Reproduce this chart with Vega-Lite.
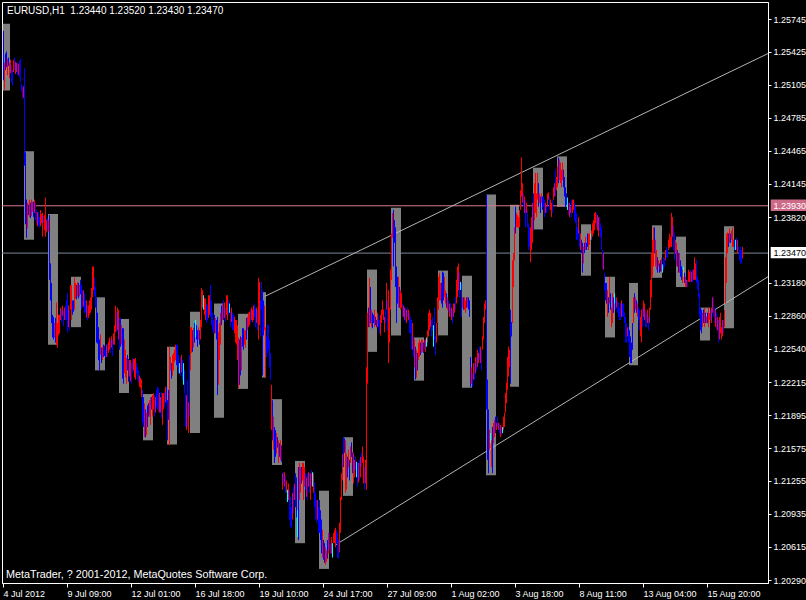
{"$schema":"https://vega.github.io/schema/vega-lite/v6.json","width":766,"height":581,"autosize":{"type":"none"},"padding":{"left":2,"top":2,"right":38,"bottom":17},"background":"#000000",
"config":{"view":{"stroke":"#ffffff","strokeWidth":1},"font":"Liberation Sans","axis":{"domainColor":"#ffffff","tickColor":"#ffffff","labelColor":"#ffffff","labelFont":"Liberation Sans","labelFontSize":9,"grid":false,"labelOverlap":false,"labelFlush":false,"labelBound":false,"title":null}},
"datasets":{
"boxes":[{"x0":0.7,"x1":8,"top":1.2570,"bot":1.2505},{"x0":22,"x1":32,"top":1.2446,"bot":1.2360},{"x0":46,"x1":56,"top":1.2385,"bot":1.2258},{"x0":69,"x1":79,"top":1.2324,"bot":1.2275},{"x0":93,"x1":103,"top":1.2304,"bot":1.2233},{"x0":117,"x1":127,"top":1.2283,"bot":1.2211},{"x0":141,"x1":151,"top":1.2210,"bot":1.2165},{"x0":165,"x1":175,"top":1.2256,"bot":1.2161},{"x0":188,"x1":198,"top":1.2290,"bot":1.2172},{"x0":212,"x1":222,"top":1.2298,"bot":1.2187},{"x0":236,"x1":246,"top":1.2288,"bot":1.2215},{"x0":260,"x1":264,"top":1.2309,"bot":1.2226},{"x0":270,"x1":280,"top":1.2205,"bot":1.2141},{"x0":293,"x1":303,"top":1.2145,"bot":1.2065},{"x0":317,"x1":327,"top":1.2116,"bot":1.2040},{"x0":341,"x1":351,"top":1.2168,"bot":1.2111},{"x0":365,"x1":375,"top":1.2331,"bot":1.2251},{"x0":389,"x1":399,"top":1.2391,"bot":1.2267},{"x0":412,"x1":422,"top":1.2265,"bot":1.2223},{"x0":436,"x1":446,"top":1.2330,"bot":1.2267},{"x0":460,"x1":470,"top":1.2325,"bot":1.2216},{"x0":484,"x1":494,"top":1.2404,"bot":1.2131},{"x0":508,"x1":517,"top":1.2394,"bot":1.2217},{"x0":531,"x1":541,"top":1.2430,"bot":1.2370},{"x0":555,"x1":565,"top":1.2441,"bot":1.2392},{"x0":579,"x1":589,"top":1.2375,"bot":1.2325},{"x0":603,"x1":613,"top":1.2324,"bot":1.2265},{"x0":627,"x1":636,"top":1.2318,"bot":1.2238},{"x0":650,"x1":660,"top":1.2374,"bot":1.2323},{"x0":674,"x1":684,"top":1.2363,"bot":1.2314},{"x0":698,"x1":708,"top":1.2294,"bot":1.2262},{"x0":722,"x1":732,"top":1.2373,"bot":1.2274}],
"bars":[
{"i":1,"h":1.2563,"l":1.2515,"c":"b"},{"i":2,"h":1.2532,"l":1.2506,"c":"r"},{"i":3,"h":1.2541,"l":1.2525,"c":"b"},{"i":4,"h":1.2543,"l":1.2528,"c":"b"},{"i":5,"h":1.2536,"l":1.2520,"c":"r"},{"i":6,"h":1.2537,"l":1.2529,"c":"b"},{"i":7,"h":1.2532,"l":1.2517,"c":"r"},{"i":8,"h":1.2535,"l":1.2522,"c":"r"},{"i":9,"h":1.2530,"l":1.2513,"c":"b"},{"i":10,"h":1.2525,"l":1.2510,"c":"b"},
{"i":11,"h":1.2535,"l":1.2523,"c":"r"},{"i":12,"h":1.2537,"l":1.2525,"c":"b"},{"i":13,"h":1.2533,"l":1.2521,"c":"r"},{"i":14,"h":1.2532,"l":1.2523,"c":"r"},{"i":15,"h":1.2532,"l":1.2520,"c":"b"},{"i":16,"h":1.2531,"l":1.2520,"c":"r"},{"i":17,"h":1.2534,"l":1.2518,"c":"b"},{"i":18,"h":1.2536,"l":1.2513,"c":"b"},{"i":19,"h":1.2512,"l":1.2504,"c":"b"},{"i":20,"h":1.2510,"l":1.2497,"c":"b"},
{"i":21,"h":1.2509,"l":1.2498,"c":"r"},{"i":22,"h":1.2527,"l":1.2432,"c":"b"},{"i":23,"h":1.2445,"l":1.2375,"c":"b"},{"i":24,"h":1.2399,"l":1.2362,"c":"b"},{"i":25,"h":1.2396,"l":1.2371,"c":"r"},{"i":26,"h":1.2394,"l":1.2384,"c":"b"},{"i":27,"h":1.2399,"l":1.2382,"c":"r"},{"i":28,"h":1.2396,"l":1.2381,"c":"b"},{"i":29,"h":1.2399,"l":1.2383,"c":"r"},{"i":30,"h":1.2397,"l":1.2387,"c":"r"},
{"i":31,"h":1.2397,"l":1.2382,"c":"b"},{"i":32,"h":1.2399,"l":1.2386,"c":"r"},{"i":33,"h":1.2396,"l":1.2379,"c":"b"},{"i":34,"h":1.2389,"l":1.2376,"c":"b"},{"i":35,"h":1.2387,"l":1.2373,"c":"r"},{"i":36,"h":1.2387,"l":1.2374,"c":"b"},{"i":37,"h":1.2382,"l":1.2372,"c":"b"},{"i":38,"h":1.2389,"l":1.2373,"c":"r"},{"i":39,"h":1.2385,"l":1.2376,"c":"r"},{"i":40,"h":1.2386,"l":1.2363,"c":"r"},
{"i":41,"h":1.2383,"l":1.2376,"c":"b"},{"i":42,"h":1.2384,"l":1.2369,"c":"r"},{"i":43,"h":1.2401,"l":1.2363,"c":"r"},{"i":44,"h":1.2379,"l":1.2367,"c":"r"},{"i":45,"h":1.2381,"l":1.2369,"c":"b"},{"i":46,"h":1.2379,"l":1.2368,"c":"r"},{"i":47,"h":1.2384,"l":1.2321,"c":"b"},{"i":48,"h":1.2337,"l":1.2301,"c":"b"},{"i":49,"h":1.2318,"l":1.2279,"c":"b"},{"i":50,"h":1.2287,"l":1.2265,"c":"b"},
{"i":51,"h":1.2285,"l":1.2263,"c":"b"},{"i":52,"h":1.2279,"l":1.2265,"c":"r"},{"i":53,"h":1.2284,"l":1.2260,"c":"b"},{"i":54,"h":1.2299,"l":1.2258,"c":"r"},{"i":55,"h":1.2279,"l":1.2255,"c":"r"},{"i":56,"h":1.2287,"l":1.2267,"c":"r"},{"i":57,"h":1.2287,"l":1.2269,"c":"r"},{"i":58,"h":1.2294,"l":1.2282,"c":"r"},{"i":59,"h":1.2293,"l":1.2280,"c":"b"},{"i":60,"h":1.2296,"l":1.2286,"c":"r"},
{"i":61,"h":1.2291,"l":1.2276,"c":"b"},{"i":62,"h":1.2294,"l":1.2282,"c":"r"},{"i":63,"h":1.2296,"l":1.2282,"c":"b"},{"i":64,"h":1.2301,"l":1.2282,"c":"b"},{"i":65,"h":1.2308,"l":1.2270,"c":"b"},{"i":66,"h":1.2296,"l":1.2275,"c":"r"},{"i":67,"h":1.2292,"l":1.2272,"c":"b"},{"i":68,"h":1.2316,"l":1.2292,"c":"r"},{"i":69,"h":1.2316,"l":1.2282,"c":"r"},{"i":70,"h":1.2301,"l":1.2287,"c":"b"},
{"i":71,"h":1.2301,"l":1.2290,"c":"b"},{"i":72,"h":1.2323,"l":1.2292,"c":"r"},{"i":73,"h":1.2318,"l":1.2303,"c":"r"},{"i":74,"h":1.2316,"l":1.2302,"c":"b"},{"i":75,"h":1.2319,"l":1.2305,"c":"r"},{"i":76,"h":1.2318,"l":1.2303,"c":"b"},{"i":77,"h":1.2316,"l":1.2305,"c":"r"},{"i":78,"h":1.2321,"l":1.2307,"c":"b"},{"i":79,"h":1.2316,"l":1.2292,"c":"b"},{"i":80,"h":1.2311,"l":1.2294,"c":"b"},
{"i":81,"h":1.2311,"l":1.2295,"c":"r"},{"i":82,"h":1.2308,"l":1.2289,"c":"b"},{"i":83,"h":1.2301,"l":1.2289,"c":"b"},{"i":84,"h":1.2301,"l":1.2284,"c":"r"},{"i":85,"h":1.2296,"l":1.2282,"c":"b"},{"i":86,"h":1.2296,"l":1.2284,"c":"r"},{"i":87,"h":1.2301,"l":1.2287,"c":"r"},{"i":88,"h":1.2304,"l":1.2289,"c":"r"},{"i":89,"h":1.2313,"l":1.2292,"c":"r"},{"i":90,"h":1.2334,"l":1.2304,"c":"r"},
{"i":91,"h":1.2334,"l":1.2311,"c":"r"},{"i":92,"h":1.2323,"l":1.2305,"c":"b"},{"i":93,"h":1.2314,"l":1.2294,"c":"b"},{"i":94,"h":1.2304,"l":1.2260,"c":"b"},{"i":95,"h":1.2289,"l":1.2259,"c":"b"},{"i":96,"h":1.2275,"l":1.2243,"c":"b"},{"i":97,"h":1.2263,"l":1.2233,"c":"b"},{"i":98,"h":1.2268,"l":1.2248,"c":"r"},{"i":99,"h":1.2255,"l":1.2240,"c":"b"},{"i":100,"h":1.2256,"l":1.2243,"c":"r"},
{"i":101,"h":1.2258,"l":1.2246,"c":"b"},{"i":102,"h":1.2257,"l":1.2247,"c":"b"},{"i":103,"h":1.2253,"l":1.2245,"c":"b"},{"i":104,"h":1.2258,"l":1.2246,"c":"r"},{"i":105,"h":1.2259,"l":1.2246,"c":"b"},{"i":106,"h":1.2261,"l":1.2250,"c":"r"},{"i":107,"h":1.2265,"l":1.2253,"c":"r"},{"i":108,"h":1.2263,"l":1.2250,"c":"b"},{"i":109,"h":1.2266,"l":1.2255,"c":"r"},{"i":110,"h":1.2263,"l":1.2247,"c":"b"},
{"i":111,"h":1.2269,"l":1.2258,"c":"r"},{"i":112,"h":1.2277,"l":1.2258,"c":"r"},{"i":113,"h":1.2296,"l":1.2270,"c":"r"},{"i":114,"h":1.2290,"l":1.2270,"c":"b"},{"i":115,"h":1.2294,"l":1.2272,"c":"r"},{"i":116,"h":1.2292,"l":1.2263,"c":"r"},{"i":117,"h":1.2284,"l":1.2253,"c":"b"},{"i":118,"h":1.2284,"l":1.2256,"c":"b"},{"i":119,"h":1.2277,"l":1.2258,"c":"r"},{"i":120,"h":1.2274,"l":1.2225,"c":"b"},
{"i":121,"h":1.2274,"l":1.2220,"c":"b"},{"i":122,"h":1.2263,"l":1.2230,"c":"r"},{"i":123,"h":1.2253,"l":1.2226,"c":"r"},{"i":124,"h":1.2245,"l":1.2220,"c":"r"},{"i":125,"h":1.2248,"l":1.2233,"c":"b"},{"i":126,"h":1.2244,"l":1.2222,"c":"b"},{"i":127,"h":1.2243,"l":1.2227,"c":"r"},{"i":128,"h":1.2243,"l":1.2222,"c":"r"},{"i":129,"h":1.2240,"l":1.2220,"c":"b"},{"i":130,"h":1.2245,"l":1.2231,"c":"b"},
{"i":131,"h":1.2244,"l":1.2233,"c":"r"},{"i":132,"h":1.2244,"l":1.2226,"c":"r"},{"i":133,"h":1.2245,"l":1.2224,"c":"r"},{"i":134,"h":1.2240,"l":1.2230,"c":"b"},{"i":135,"h":1.2236,"l":1.2224,"c":"b"},{"i":136,"h":1.2233,"l":1.2221,"c":"b"},{"i":137,"h":1.2228,"l":1.2217,"c":"r"},{"i":138,"h":1.2226,"l":1.2216,"c":"r"},{"i":139,"h":1.2224,"l":1.2207,"c":"r"},{"i":140,"h":1.2214,"l":1.2182,"c":"b"},
{"i":141,"h":1.2207,"l":1.2178,"c":"b"},{"i":142,"h":1.2201,"l":1.2168,"c":"r"},{"i":143,"h":1.2195,"l":1.2168,"c":"b"},{"i":144,"h":1.2192,"l":1.2170,"c":"r"},{"i":145,"h":1.2199,"l":1.2178,"c":"b"},{"i":146,"h":1.2201,"l":1.2188,"c":"b"},{"i":147,"h":1.2204,"l":1.2188,"c":"r"},{"i":148,"h":1.2207,"l":1.2180,"c":"r"},{"i":149,"h":1.2207,"l":1.2195,"c":"b"},{"i":150,"h":1.2209,"l":1.2188,"c":"r"},
{"i":151,"h":1.2211,"l":1.2195,"c":"r"},{"i":152,"h":1.2209,"l":1.2188,"c":"b"},{"i":153,"h":1.2207,"l":1.2192,"c":"r"},{"i":154,"h":1.2214,"l":1.2197,"c":"b"},{"i":155,"h":1.2217,"l":1.2195,"c":"b"},{"i":156,"h":1.2216,"l":1.2193,"c":"b"},{"i":157,"h":1.2211,"l":1.2192,"c":"r"},{"i":158,"h":1.2207,"l":1.2192,"c":"r"},{"i":159,"h":1.2212,"l":1.2187,"c":"b"},{"i":160,"h":1.2211,"l":1.2180,"c":"r"},
{"i":161,"h":1.2211,"l":1.2195,"c":"r"},{"i":162,"h":1.2212,"l":1.2197,"c":"b"},{"i":163,"h":1.2217,"l":1.2202,"c":"r"},{"i":164,"h":1.2217,"l":1.2201,"c":"b"},{"i":165,"h":1.2204,"l":1.2165,"c":"b"},{"i":166,"h":1.2214,"l":1.2185,"c":"b"},{"i":167,"h":1.2256,"l":1.2160,"c":"r"},{"i":168,"h":1.2246,"l":1.2233,"c":"r"},{"i":169,"h":1.2240,"l":1.2225,"c":"b"},{"i":170,"h":1.2248,"l":1.2228,"c":"r"},
{"i":171,"h":1.2250,"l":1.2233,"c":"r"},{"i":172,"h":1.2253,"l":1.2241,"c":"r"},{"i":173,"h":1.2258,"l":1.2243,"c":"r"},{"i":174,"h":1.2258,"l":1.2238,"c":"b"},{"i":175,"h":1.2258,"l":1.2236,"c":"b"},{"i":176,"h":1.2248,"l":1.2230,"c":"b"},{"i":177,"h":1.2240,"l":1.2230,"c":"c"},{"i":178,"h":1.2245,"l":1.2228,"c":"b"},{"i":179,"h":1.2248,"l":1.2231,"c":"r"},{"i":180,"h":1.2243,"l":1.2224,"c":"b"},
{"i":181,"h":1.2240,"l":1.2219,"c":"c"},{"i":182,"h":1.2233,"l":1.2211,"c":"b"},{"i":183,"h":1.2211,"l":1.2178,"c":"b"},{"i":184,"h":1.2209,"l":1.2175,"c":"r"},{"i":185,"h":1.2224,"l":1.2178,"c":"b"},{"i":186,"h":1.2202,"l":1.2172,"c":"r"},{"i":187,"h":1.2248,"l":1.2188,"c":"b"},{"i":188,"h":1.2275,"l":1.2233,"c":"r"},{"i":189,"h":1.2275,"l":1.2250,"c":"r"},{"i":190,"h":1.2272,"l":1.2251,"c":"b"},
{"i":191,"h":1.2274,"l":1.2255,"c":"r"},{"i":192,"h":1.2279,"l":1.2260,"c":"b"},{"i":193,"h":1.2282,"l":1.2265,"c":"c"},{"i":194,"h":1.2277,"l":1.2263,"c":"b"},{"i":195,"h":1.2272,"l":1.2256,"c":"b"},{"i":196,"h":1.2275,"l":1.2263,"c":"r"},{"i":197,"h":1.2272,"l":1.2258,"c":"b"},{"i":198,"h":1.2282,"l":1.2263,"c":"r"},{"i":199,"h":1.2313,"l":1.2275,"c":"r"},{"i":200,"h":1.2311,"l":1.2294,"c":"r"},
{"i":201,"h":1.2306,"l":1.2292,"c":"c"},{"i":202,"h":1.2303,"l":1.2287,"c":"r"},{"i":203,"h":1.2303,"l":1.2282,"c":"r"},{"i":204,"h":1.2298,"l":1.2279,"c":"b"},{"i":205,"h":1.2296,"l":1.2282,"c":"b"},{"i":206,"h":1.2306,"l":1.2284,"c":"r"},{"i":207,"h":1.2306,"l":1.2287,"c":"r"},{"i":208,"h":1.2316,"l":1.2285,"c":"b"},{"i":209,"h":1.2301,"l":1.2277,"c":"b"},{"i":210,"h":1.2289,"l":1.2272,"c":"b"},
{"i":211,"h":1.2282,"l":1.2269,"c":"b"},{"i":212,"h":1.2287,"l":1.2269,"c":"b"},{"i":213,"h":1.2284,"l":1.2269,"c":"r"},{"i":214,"h":1.2282,"l":1.2263,"c":"b"},{"i":215,"h":1.2285,"l":1.2209,"c":"b"},{"i":216,"h":1.2270,"l":1.2219,"c":"r"},{"i":217,"h":1.2279,"l":1.2243,"c":"r"},{"i":218,"h":1.2289,"l":1.2258,"c":"r"},{"i":219,"h":1.2296,"l":1.2277,"c":"b"},{"i":220,"h":1.2298,"l":1.2282,"c":"r"},
{"i":221,"h":1.2301,"l":1.2282,"c":"b"},{"i":222,"h":1.2299,"l":1.2284,"c":"r"},{"i":223,"h":1.2294,"l":1.2280,"c":"b"},{"i":224,"h":1.2306,"l":1.2287,"c":"r"},{"i":225,"h":1.2306,"l":1.2282,"c":"r"},{"i":226,"h":1.2301,"l":1.2287,"c":"b"},{"i":227,"h":1.2298,"l":1.2289,"c":"c"},{"i":228,"h":1.2290,"l":1.2275,"c":"b"},{"i":229,"h":1.2294,"l":1.2280,"c":"r"},{"i":230,"h":1.2289,"l":1.2272,"c":"b"},
{"i":231,"h":1.2287,"l":1.2272,"c":"b"},{"i":232,"h":1.2285,"l":1.2269,"c":"r"},{"i":233,"h":1.2282,"l":1.2260,"c":"r"},{"i":234,"h":1.2282,"l":1.2258,"c":"r"},{"i":235,"h":1.2277,"l":1.2243,"c":"r"},{"i":236,"h":1.2265,"l":1.2216,"c":"r"},{"i":237,"h":1.2263,"l":1.2219,"c":"b"},{"i":238,"h":1.2266,"l":1.2228,"c":"b"},{"i":239,"h":1.2265,"l":1.2233,"c":"r"},{"i":240,"h":1.2274,"l":1.2256,"c":"b"},
{"i":241,"h":1.2274,"l":1.2253,"c":"b"},{"i":242,"h":1.2272,"l":1.2258,"c":"r"},{"i":243,"h":1.2272,"l":1.2255,"c":"r"},{"i":244,"h":1.2284,"l":1.2263,"c":"b"},{"i":245,"h":1.2285,"l":1.2272,"c":"r"},{"i":246,"h":1.2289,"l":1.2275,"c":"r"},{"i":247,"h":1.2290,"l":1.2277,"c":"r"},{"i":248,"h":1.2292,"l":1.2279,"c":"b"},{"i":249,"h":1.2294,"l":1.2282,"c":"r"},{"i":250,"h":1.2292,"l":1.2280,"c":"r"},
{"i":251,"h":1.2296,"l":1.2282,"c":"r"},{"i":252,"h":1.2298,"l":1.2285,"c":"b"},{"i":253,"h":1.2294,"l":1.2275,"c":"b"},{"i":254,"h":1.2294,"l":1.2279,"c":"r"},{"i":255,"h":1.2292,"l":1.2272,"c":"b"},{"i":256,"h":1.2323,"l":1.2263,"c":"r"},{"i":257,"h":1.2319,"l":1.2277,"c":"r"},{"i":258,"h":1.2301,"l":1.2266,"c":"b"},{"i":259,"h":1.2319,"l":1.2292,"c":"b"},{"i":260,"h":1.2311,"l":1.2228,"c":"b"},
{"i":261,"h":1.2301,"l":1.2267,"c":"b"},{"i":262,"h":1.2296,"l":1.2272,"c":"r"},{"i":263,"h":1.2275,"l":1.2226,"c":"r"},{"i":264,"h":1.2266,"l":1.2246,"c":"b"},{"i":265,"h":1.2278,"l":1.2250,"c":"b"},{"i":266,"h":1.2277,"l":1.2253,"c":"b"},{"i":267,"h":1.2263,"l":1.2236,"c":"b"},{"i":268,"h":1.2250,"l":1.2224,"c":"b"},{"i":269,"h":1.2219,"l":1.2175,"c":"r"},{"i":270,"h":1.2204,"l":1.2165,"c":"b"},
{"i":271,"h":1.2188,"l":1.2156,"c":"r"},{"i":272,"h":1.2178,"l":1.2143,"c":"b"},{"i":273,"h":1.2175,"l":1.2149,"c":"b"},{"i":274,"h":1.2172,"l":1.2152,"c":"r"},{"i":275,"h":1.2168,"l":1.2158,"c":"b"},{"i":276,"h":1.2165,"l":1.2143,"c":"r"},{"i":277,"h":1.2162,"l":1.2149,"c":"b"},{"i":278,"h":1.2165,"l":1.2146,"c":"r"},{"i":279,"h":1.2160,"l":1.2144,"c":"b"},{"i":280,"h":1.2133,"l":1.2117,"c":"r"},
{"i":281,"h":1.2134,"l":1.2123,"c":"b"},{"i":282,"h":1.2134,"l":1.2120,"c":"r"},{"i":283,"h":1.2131,"l":1.2114,"c":"b"},{"i":284,"h":1.2126,"l":1.2114,"c":"r"},{"i":285,"h":1.2117,"l":1.2105,"c":"c"},{"i":286,"h":1.2123,"l":1.2107,"c":"r"},{"i":287,"h":1.2117,"l":1.2088,"c":"b"},{"i":288,"h":1.2110,"l":1.2081,"c":"b"},{"i":289,"h":1.2100,"l":1.2080,"c":"b"},{"i":290,"h":1.2114,"l":1.2088,"c":"r"},
{"i":291,"h":1.2120,"l":1.2094,"c":"b"},{"i":292,"h":1.2123,"l":1.2107,"c":"r"},{"i":293,"h":1.2133,"l":1.2100,"c":"b"},{"i":294,"h":1.2129,"l":1.2090,"c":"b"},{"i":295,"h":1.2097,"l":1.2071,"c":"c"},{"i":296,"h":1.2139,"l":1.2068,"c":"b"},{"i":297,"h":1.2143,"l":1.2107,"c":"r"},{"i":298,"h":1.2139,"l":1.2114,"c":"r"},{"i":299,"h":1.2139,"l":1.2123,"c":"b"},{"i":300,"h":1.2143,"l":1.2126,"c":"r"},
{"i":301,"h":1.2143,"l":1.2107,"c":"r"},{"i":302,"h":1.2139,"l":1.2120,"c":"r"},{"i":303,"h":1.2133,"l":1.2117,"c":"b"},{"i":304,"h":1.2129,"l":1.2110,"c":"r"},{"i":305,"h":1.2133,"l":1.2107,"c":"b"},{"i":306,"h":1.2134,"l":1.2120,"c":"r"},{"i":307,"h":1.2133,"l":1.2114,"c":"b"},{"i":308,"h":1.2133,"l":1.2107,"c":"r"},{"i":309,"h":1.2136,"l":1.2120,"c":"b"},{"i":310,"h":1.2134,"l":1.2120,"c":"c"},
{"i":311,"h":1.2133,"l":1.2114,"c":"r"},{"i":312,"h":1.2124,"l":1.2100,"c":"b"},{"i":313,"h":1.2114,"l":1.2088,"c":"b"},{"i":314,"h":1.2107,"l":1.2085,"c":"b"},{"i":315,"h":1.2107,"l":1.2088,"c":"r"},{"i":316,"h":1.2100,"l":1.2075,"c":"b"},{"i":317,"h":1.2107,"l":1.2075,"c":"b"},{"i":318,"h":1.2097,"l":1.2068,"c":"b"},{"i":319,"h":1.2088,"l":1.2055,"c":"b"},{"i":320,"h":1.2078,"l":1.2051,"c":"r"},
{"i":321,"h":1.2068,"l":1.2049,"c":"b"},{"i":322,"h":1.2065,"l":1.2046,"c":"b"},{"i":323,"h":1.2061,"l":1.2044,"c":"r"},{"i":324,"h":1.2058,"l":1.2047,"c":"r"},{"i":325,"h":1.2068,"l":1.2050,"c":"b"},{"i":326,"h":1.2075,"l":1.2055,"c":"r"},{"i":327,"h":1.2075,"l":1.2058,"c":"b"},{"i":328,"h":1.2065,"l":1.2055,"c":"b"},{"i":329,"h":1.2071,"l":1.2055,"c":"r"},{"i":330,"h":1.2065,"l":1.2051,"c":"c"},
{"i":331,"h":1.2075,"l":1.2065,"c":"r"},{"i":332,"h":1.2078,"l":1.2065,"c":"r"},{"i":333,"h":1.2080,"l":1.2061,"c":"r"},{"i":334,"h":1.2078,"l":1.2065,"c":"b"},{"i":335,"h":1.2075,"l":1.2051,"c":"b"},{"i":336,"h":1.2068,"l":1.2050,"c":"b"},{"i":337,"h":1.2085,"l":1.2056,"c":"r"},{"i":338,"h":1.2110,"l":1.2075,"c":"r"},{"i":339,"h":1.2133,"l":1.2107,"c":"r"},{"i":340,"h":1.2152,"l":1.2126,"c":"r"},
{"i":341,"h":1.2168,"l":1.2139,"c":"b"},{"i":342,"h":1.2167,"l":1.2153,"c":"b"},{"i":343,"h":1.2165,"l":1.2114,"c":"r"},{"i":344,"h":1.2152,"l":1.2117,"c":"r"},{"i":345,"h":1.2149,"l":1.2129,"c":"b"},{"i":346,"h":1.2156,"l":1.2139,"c":"r"},{"i":347,"h":1.2146,"l":1.2126,"c":"b"},{"i":348,"h":1.2159,"l":1.2143,"c":"r"},{"i":349,"h":1.2163,"l":1.2149,"c":"b"},{"i":350,"h":1.2153,"l":1.2133,"c":"b"},
{"i":351,"h":1.2153,"l":1.2123,"c":"r"},{"i":352,"h":1.2146,"l":1.2129,"c":"r"},{"i":353,"h":1.2149,"l":1.2136,"c":"b"},{"i":354,"h":1.2144,"l":1.2129,"c":"c"},{"i":355,"h":1.2143,"l":1.2120,"c":"b"},{"i":356,"h":1.2143,"l":1.2124,"c":"r"},{"i":357,"h":1.2146,"l":1.2126,"c":"b"},{"i":358,"h":1.2149,"l":1.2129,"c":"r"},{"i":359,"h":1.2153,"l":1.2139,"c":"b"},{"i":360,"h":1.2159,"l":1.2143,"c":"r"},
{"i":361,"h":1.2149,"l":1.2123,"c":"r"},{"i":362,"h":1.2139,"l":1.2117,"c":"b"},{"i":363,"h":1.2146,"l":1.2123,"c":"r"},{"i":364,"h":1.2236,"l":1.2117,"c":"r"},{"i":365,"h":1.2289,"l":1.2220,"c":"r"},{"i":366,"h":1.2294,"l":1.2275,"c":"b"},{"i":367,"h":1.2323,"l":1.2275,"c":"r"},{"i":368,"h":1.2314,"l":1.2279,"c":"b"},{"i":369,"h":1.2292,"l":1.2275,"c":"r"},{"i":370,"h":1.2289,"l":1.2274,"c":"b"},
{"i":371,"h":1.2287,"l":1.2279,"c":"b"},{"i":372,"h":1.2292,"l":1.2275,"c":"r"},{"i":373,"h":1.2285,"l":1.2277,"c":"b"},{"i":374,"h":1.2282,"l":1.2275,"c":"b"},{"i":375,"h":1.2289,"l":1.2275,"c":"r"},{"i":376,"h":1.2287,"l":1.2275,"c":"b"},{"i":377,"h":1.2282,"l":1.2269,"c":"b"},{"i":378,"h":1.2287,"l":1.2267,"c":"r"},{"i":379,"h":1.2292,"l":1.2279,"c":"r"},{"i":380,"h":1.2301,"l":1.2287,"c":"r"},
{"i":381,"h":1.2292,"l":1.2282,"c":"r"},{"i":382,"h":1.2285,"l":1.2270,"c":"r"},{"i":383,"h":1.2292,"l":1.2279,"c":"b"},{"i":384,"h":1.2318,"l":1.2292,"c":"r"},{"i":385,"h":1.2301,"l":1.2272,"c":"b"},{"i":386,"h":1.2311,"l":1.2240,"c":"r"},{"i":387,"h":1.2294,"l":1.2260,"c":"r"},{"i":388,"h":1.2331,"l":1.2292,"c":"r"},{"i":389,"h":1.2366,"l":1.2321,"c":"r"},{"i":390,"h":1.2386,"l":1.2362,"c":"r"},
{"i":391,"h":1.2389,"l":1.2334,"c":"b"},{"i":392,"h":1.2379,"l":1.2357,"c":"b"},{"i":393,"h":1.2372,"l":1.2314,"c":"b"},{"i":394,"h":1.2334,"l":1.2279,"c":"b"},{"i":395,"h":1.2324,"l":1.2298,"c":"b"},{"i":396,"h":1.2324,"l":1.2294,"c":"r"},{"i":397,"h":1.2314,"l":1.2294,"c":"b"},{"i":398,"h":1.2311,"l":1.2292,"c":"r"},{"i":399,"h":1.2308,"l":1.2294,"c":"r"},{"i":400,"h":1.2298,"l":1.2285,"c":"b"},
{"i":401,"h":1.2296,"l":1.2285,"c":"r"},{"i":402,"h":1.2294,"l":1.2282,"c":"r"},{"i":403,"h":1.2294,"l":1.2280,"c":"b"},{"i":404,"h":1.2292,"l":1.2279,"c":"r"},{"i":405,"h":1.2294,"l":1.2285,"c":"b"},{"i":406,"h":1.2292,"l":1.2282,"c":"r"},{"i":407,"h":1.2289,"l":1.2269,"c":"b"},{"i":408,"h":1.2285,"l":1.2269,"c":"b"},{"i":409,"h":1.2282,"l":1.2253,"c":"b"},{"i":410,"h":1.2279,"l":1.2253,"c":"r"},
{"i":411,"h":1.2266,"l":1.2246,"c":"b"},{"i":412,"h":1.2263,"l":1.2236,"c":"r"},{"i":413,"h":1.2256,"l":1.2224,"c":"b"},{"i":414,"h":1.2253,"l":1.2226,"c":"r"},{"i":415,"h":1.2250,"l":1.2233,"c":"b"},{"i":416,"h":1.2260,"l":1.2243,"c":"r"},{"i":417,"h":1.2263,"l":1.2246,"c":"r"},{"i":418,"h":1.2260,"l":1.2248,"c":"b"},{"i":419,"h":1.2263,"l":1.2250,"c":"r"},{"i":420,"h":1.2263,"l":1.2251,"c":"r"},
{"i":421,"h":1.2260,"l":1.2250,"c":"b"},{"i":422,"h":1.2263,"l":1.2253,"c":"b"},{"i":423,"h":1.2263,"l":1.2251,"c":"r"},{"i":424,"h":1.2265,"l":1.2256,"c":"c"},{"i":425,"h":1.2272,"l":1.2260,"c":"r"},{"i":426,"h":1.2289,"l":1.2266,"c":"r"},{"i":427,"h":1.2292,"l":1.2272,"c":"r"},{"i":428,"h":1.2289,"l":1.2275,"c":"r"},{"i":429,"h":1.2282,"l":1.2266,"c":"b"},{"i":430,"h":1.2285,"l":1.2272,"c":"b"},
{"i":431,"h":1.2277,"l":1.2256,"c":"c"},{"i":432,"h":1.2294,"l":1.2263,"c":"b"},{"i":433,"h":1.2266,"l":1.2248,"c":"b"},{"i":434,"h":1.2279,"l":1.2260,"c":"r"},{"i":435,"h":1.2304,"l":1.2279,"c":"r"},{"i":436,"h":1.2324,"l":1.2292,"c":"r"},{"i":437,"h":1.2328,"l":1.2301,"c":"r"},{"i":438,"h":1.2318,"l":1.2301,"c":"r"},{"i":439,"h":1.2318,"l":1.2298,"c":"b"},{"i":440,"h":1.2329,"l":1.2294,"c":"b"},
{"i":441,"h":1.2328,"l":1.2301,"c":"b"},{"i":442,"h":1.2324,"l":1.2304,"c":"r"},{"i":443,"h":1.2311,"l":1.2298,"c":"r"},{"i":444,"h":1.2308,"l":1.2294,"c":"b"},{"i":445,"h":1.2304,"l":1.2292,"c":"r"},{"i":446,"h":1.2301,"l":1.2289,"c":"b"},{"i":447,"h":1.2298,"l":1.2285,"c":"r"},{"i":448,"h":1.2298,"l":1.2285,"c":"b"},{"i":449,"h":1.2294,"l":1.2282,"c":"r"},{"i":450,"h":1.2292,"l":1.2279,"c":"b"},
{"i":451,"h":1.2298,"l":1.2285,"c":"r"},{"i":452,"h":1.2298,"l":1.2289,"c":"r"},{"i":453,"h":1.2304,"l":1.2292,"c":"b"},{"i":454,"h":1.2321,"l":1.2298,"c":"r"},{"i":455,"h":1.2334,"l":1.2304,"c":"r"},{"i":456,"h":1.2337,"l":1.2311,"c":"r"},{"i":457,"h":1.2328,"l":1.2304,"c":"b"},{"i":458,"h":1.2319,"l":1.2311,"c":"c"},{"i":459,"h":1.2318,"l":1.2285,"c":"b"},{"i":460,"h":1.2304,"l":1.2294,"c":"r"},
{"i":461,"h":1.2304,"l":1.2292,"c":"b"},{"i":462,"h":1.2304,"l":1.2292,"c":"r"},{"i":463,"h":1.2301,"l":1.2289,"c":"r"},{"i":464,"h":1.2304,"l":1.2294,"c":"b"},{"i":465,"h":1.2304,"l":1.2294,"c":"r"},{"i":466,"h":1.2304,"l":1.2292,"c":"b"},{"i":467,"h":1.2301,"l":1.2285,"c":"b"},{"i":468,"h":1.2246,"l":1.2217,"c":"b"},{"i":469,"h":1.2236,"l":1.2220,"c":"r"},{"i":470,"h":1.2230,"l":1.2217,"c":"b"},
{"i":471,"h":1.2240,"l":1.2224,"c":"r"},{"i":472,"h":1.2240,"l":1.2224,"c":"b"},{"i":473,"h":1.2246,"l":1.2230,"c":"r"},{"i":474,"h":1.2246,"l":1.2233,"c":"b"},{"i":475,"h":1.2253,"l":1.2236,"c":"r"},{"i":476,"h":1.2250,"l":1.2240,"c":"r"},{"i":477,"h":1.2256,"l":1.2243,"c":"b"},{"i":478,"h":1.2256,"l":1.2240,"c":"r"},{"i":479,"h":1.2253,"l":1.2233,"c":"b"},{"i":480,"h":1.2266,"l":1.2253,"c":"r"},
{"i":481,"h":1.2285,"l":1.2263,"c":"r"},{"i":482,"h":1.2298,"l":1.2279,"c":"r"},{"i":483,"h":1.2301,"l":1.2292,"c":"r"},{"i":484,"h":1.2404,"l":1.2195,"c":"b"},{"i":485,"h":1.2224,"l":1.2146,"c":"b"},{"i":486,"h":1.2195,"l":1.2133,"c":"b"},{"i":487,"h":1.2175,"l":1.2156,"c":"r"},{"i":488,"h":1.2172,"l":1.2162,"c":"c"},{"i":489,"h":1.2165,"l":1.2139,"c":"r"},{"i":490,"h":1.2178,"l":1.2133,"c":"b"},
{"i":491,"h":1.2182,"l":1.2162,"c":"r"},{"i":492,"h":1.2185,"l":1.2168,"c":"r"},{"i":493,"h":1.2188,"l":1.2172,"c":"b"},{"i":494,"h":1.2182,"l":1.2175,"c":"r"},{"i":495,"h":1.2188,"l":1.2178,"c":"b"},{"i":496,"h":1.2182,"l":1.2175,"c":"r"},{"i":497,"h":1.2182,"l":1.2172,"c":"b"},{"i":498,"h":1.2180,"l":1.2168,"c":"r"},{"i":499,"h":1.2178,"l":1.2170,"c":"b"},{"i":500,"h":1.2178,"l":1.2172,"c":"c"},
{"i":501,"h":1.2188,"l":1.2175,"c":"r"},{"i":502,"h":1.2192,"l":1.2178,"c":"r"},{"i":503,"h":1.2211,"l":1.2192,"c":"r"},{"i":504,"h":1.2221,"l":1.2201,"c":"r"},{"i":505,"h":1.2246,"l":1.2214,"c":"r"},{"i":506,"h":1.2256,"l":1.2227,"c":"r"},{"i":507,"h":1.2253,"l":1.2236,"c":"r"},{"i":508,"h":1.2292,"l":1.2220,"c":"b"},{"i":509,"h":1.2280,"l":1.2266,"c":"b"},{"i":510,"h":1.2340,"l":1.2279,"c":"r"},
{"i":511,"h":1.2347,"l":1.2314,"c":"r"},{"i":512,"h":1.2372,"l":1.2340,"c":"r"},{"i":513,"h":1.2392,"l":1.2366,"c":"b"},{"i":514,"h":1.2386,"l":1.2372,"c":"r"},{"i":515,"h":1.2384,"l":1.2372,"c":"r"},{"i":516,"h":1.2382,"l":1.2372,"c":"r"},{"i":517,"h":1.2389,"l":1.2372,"c":"r"},{"i":518,"h":1.2408,"l":1.2389,"c":"r"},{"i":519,"h":1.2440,"l":1.2402,"c":"r"},{"i":520,"h":1.2415,"l":1.2396,"c":"r"},
{"i":521,"h":1.2405,"l":1.2392,"c":"b"},{"i":522,"h":1.2402,"l":1.2386,"c":"r"},{"i":523,"h":1.2399,"l":1.2372,"c":"b"},{"i":524,"h":1.2396,"l":1.2386,"c":"r"},{"i":525,"h":1.2389,"l":1.2372,"c":"b"},{"i":526,"h":1.2376,"l":1.2350,"c":"b"},{"i":527,"h":1.2372,"l":1.2353,"c":"b"},{"i":528,"h":1.2372,"l":1.2338,"c":"r"},{"i":529,"h":1.2382,"l":1.2350,"c":"r"},{"i":530,"h":1.2396,"l":1.2357,"c":"r"},
{"i":531,"h":1.2405,"l":1.2369,"c":"b"},{"i":532,"h":1.2415,"l":1.2379,"c":"r"},{"i":533,"h":1.2425,"l":1.2386,"c":"r"},{"i":534,"h":1.2405,"l":1.2382,"c":"r"},{"i":535,"h":1.2425,"l":1.2399,"c":"r"},{"i":536,"h":1.2415,"l":1.2392,"c":"b"},{"i":537,"h":1.2405,"l":1.2396,"c":"r"},{"i":538,"h":1.2402,"l":1.2386,"c":"b"},{"i":539,"h":1.2405,"l":1.2396,"c":"r"},{"i":540,"h":1.2402,"l":1.2389,"c":"b"},
{"i":541,"h":1.2402,"l":1.2392,"c":"b"},{"i":542,"h":1.2399,"l":1.2382,"c":"b"},{"i":543,"h":1.2396,"l":1.2386,"c":"r"},{"i":544,"h":1.2392,"l":1.2386,"c":"b"},{"i":545,"h":1.2405,"l":1.2392,"c":"r"},{"i":546,"h":1.2406,"l":1.2399,"c":"r"},{"i":547,"h":1.2402,"l":1.2389,"c":"b"},{"i":548,"h":1.2399,"l":1.2389,"c":"r"},{"i":549,"h":1.2396,"l":1.2382,"c":"r"},{"i":550,"h":1.2399,"l":1.2386,"c":"b"},
{"i":551,"h":1.2411,"l":1.2399,"c":"r"},{"i":552,"h":1.2415,"l":1.2402,"c":"r"},{"i":553,"h":1.2428,"l":1.2402,"c":"b"},{"i":554,"h":1.2421,"l":1.2408,"c":"r"},{"i":555,"h":1.2431,"l":1.2411,"c":"r"},{"i":556,"h":1.2440,"l":1.2415,"c":"b"},{"i":557,"h":1.2438,"l":1.2418,"c":"r"},{"i":558,"h":1.2435,"l":1.2415,"c":"r"},{"i":559,"h":1.2428,"l":1.2411,"c":"r"},{"i":560,"h":1.2435,"l":1.2418,"c":"r"},
{"i":561,"h":1.2428,"l":1.2411,"c":"b"},{"i":562,"h":1.2421,"l":1.2402,"c":"b"},{"i":563,"h":1.2411,"l":1.2392,"c":"b"},{"i":564,"h":1.2405,"l":1.2394,"c":"b"},{"i":565,"h":1.2401,"l":1.2389,"c":"c"},{"i":566,"h":1.2396,"l":1.2384,"c":"b"},{"i":567,"h":1.2396,"l":1.2382,"c":"r"},{"i":568,"h":1.2392,"l":1.2386,"c":"r"},{"i":569,"h":1.2399,"l":1.2382,"c":"b"},{"i":570,"h":1.2399,"l":1.2386,"c":"r"},
{"i":571,"h":1.2399,"l":1.2389,"c":"r"},{"i":572,"h":1.2396,"l":1.2379,"c":"b"},{"i":573,"h":1.2392,"l":1.2376,"c":"b"},{"i":574,"h":1.2386,"l":1.2360,"c":"b"},{"i":575,"h":1.2372,"l":1.2360,"c":"b"},{"i":576,"h":1.2382,"l":1.2366,"c":"r"},{"i":577,"h":1.2369,"l":1.2353,"c":"b"},{"i":578,"h":1.2366,"l":1.2350,"c":"r"},{"i":579,"h":1.2360,"l":1.2347,"c":"b"},{"i":580,"h":1.2357,"l":1.2328,"c":"b"},
{"i":581,"h":1.2353,"l":1.2337,"c":"r"},{"i":582,"h":1.2357,"l":1.2347,"c":"b"},{"i":583,"h":1.2363,"l":1.2350,"c":"r"},{"i":584,"h":1.2357,"l":1.2350,"c":"b"},{"i":585,"h":1.2366,"l":1.2353,"c":"b"},{"i":586,"h":1.2366,"l":1.2350,"c":"r"},{"i":587,"h":1.2366,"l":1.2355,"c":"r"},{"i":588,"h":1.2366,"l":1.2360,"c":"c"},{"i":589,"h":1.2369,"l":1.2360,"c":"r"},{"i":590,"h":1.2376,"l":1.2363,"c":"r"},
{"i":591,"h":1.2379,"l":1.2366,"c":"r"},{"i":592,"h":1.2386,"l":1.2369,"c":"r"},{"i":593,"h":1.2387,"l":1.2376,"c":"r"},{"i":594,"h":1.2386,"l":1.2372,"c":"b"},{"i":595,"h":1.2384,"l":1.2369,"c":"r"},{"i":596,"h":1.2382,"l":1.2363,"c":"r"},{"i":597,"h":1.2382,"l":1.2369,"c":"b"},{"i":598,"h":1.2376,"l":1.2363,"c":"b"},{"i":599,"h":1.2372,"l":1.2350,"c":"b"},{"i":600,"h":1.2350,"l":1.2331,"c":"b"},
{"i":601,"h":1.2347,"l":1.2331,"c":"r"},{"i":602,"h":1.2328,"l":1.2311,"c":"b"},{"i":603,"h":1.2318,"l":1.2301,"c":"b"},{"i":604,"h":1.2318,"l":1.2298,"c":"b"},{"i":605,"h":1.2311,"l":1.2285,"c":"r"},{"i":606,"h":1.2304,"l":1.2289,"c":"b"},{"i":607,"h":1.2324,"l":1.2298,"c":"r"},{"i":608,"h":1.2308,"l":1.2292,"c":"b"},{"i":609,"h":1.2294,"l":1.2275,"c":"r"},{"i":610,"h":1.2308,"l":1.2279,"c":"r"},
{"i":611,"h":1.2304,"l":1.2289,"c":"b"},{"i":612,"h":1.2308,"l":1.2298,"c":"c"},{"i":613,"h":1.2304,"l":1.2292,"c":"b"},{"i":614,"h":1.2304,"l":1.2294,"c":"r"},{"i":615,"h":1.2301,"l":1.2289,"c":"b"},{"i":616,"h":1.2299,"l":1.2285,"c":"b"},{"i":617,"h":1.2294,"l":1.2282,"c":"b"},{"i":618,"h":1.2298,"l":1.2282,"c":"b"},{"i":619,"h":1.2301,"l":1.2285,"c":"r"},{"i":620,"h":1.2298,"l":1.2285,"c":"b"},
{"i":621,"h":1.2298,"l":1.2285,"c":"b"},{"i":622,"h":1.2289,"l":1.2279,"c":"b"},{"i":623,"h":1.2285,"l":1.2260,"c":"b"},{"i":624,"h":1.2279,"l":1.2260,"c":"b"},{"i":625,"h":1.2275,"l":1.2266,"c":"r"},{"i":626,"h":1.2275,"l":1.2260,"c":"b"},{"i":627,"h":1.2272,"l":1.2246,"c":"b"},{"i":628,"h":1.2266,"l":1.2240,"c":"b"},{"i":629,"h":1.2260,"l":1.2240,"c":"b"},{"i":630,"h":1.2279,"l":1.2253,"c":"b"},
{"i":631,"h":1.2304,"l":1.2279,"c":"r"},{"i":632,"h":1.2308,"l":1.2289,"c":"b"},{"i":633,"h":1.2304,"l":1.2292,"c":"r"},{"i":634,"h":1.2301,"l":1.2289,"c":"b"},{"i":635,"h":1.2298,"l":1.2285,"c":"r"},{"i":636,"h":1.2294,"l":1.2282,"c":"b"},{"i":637,"h":1.2292,"l":1.2272,"c":"b"},{"i":638,"h":1.2285,"l":1.2266,"c":"r"},{"i":639,"h":1.2292,"l":1.2260,"c":"r"},{"i":640,"h":1.2294,"l":1.2275,"c":"b"},
{"i":641,"h":1.2301,"l":1.2285,"c":"r"},{"i":642,"h":1.2298,"l":1.2282,"c":"r"},{"i":643,"h":1.2292,"l":1.2275,"c":"b"},{"i":644,"h":1.2289,"l":1.2275,"c":"b"},{"i":645,"h":1.2292,"l":1.2279,"c":"r"},{"i":646,"h":1.2285,"l":1.2272,"c":"b"},{"i":647,"h":1.2294,"l":1.2279,"c":"r"},{"i":648,"h":1.2321,"l":1.2292,"c":"r"},{"i":649,"h":1.2347,"l":1.2304,"c":"r"},{"i":650,"h":1.2360,"l":1.2324,"c":"r"},
{"i":651,"h":1.2372,"l":1.2334,"c":"r"},{"i":652,"h":1.2372,"l":1.2347,"c":"b"},{"i":653,"h":1.2360,"l":1.2334,"c":"r"},{"i":654,"h":1.2350,"l":1.2331,"c":"r"},{"i":655,"h":1.2343,"l":1.2328,"c":"b"},{"i":656,"h":1.2340,"l":1.2334,"c":"r"},{"i":657,"h":1.2337,"l":1.2328,"c":"b"},{"i":658,"h":1.2340,"l":1.2329,"c":"b"},{"i":659,"h":1.2342,"l":1.2329,"c":"r"},{"i":660,"h":1.2336,"l":1.2328,"c":"c"},
{"i":661,"h":1.2343,"l":1.2331,"c":"b"},{"i":662,"h":1.2342,"l":1.2334,"c":"b"},{"i":663,"h":1.2350,"l":1.2340,"c":"r"},{"i":664,"h":1.2353,"l":1.2343,"c":"b"},{"i":665,"h":1.2350,"l":1.2342,"c":"b"},{"i":666,"h":1.2360,"l":1.2350,"c":"r"},{"i":667,"h":1.2366,"l":1.2352,"c":"r"},{"i":668,"h":1.2363,"l":1.2353,"c":"r"},{"i":669,"h":1.2386,"l":1.2353,"c":"r"},{"i":670,"h":1.2382,"l":1.2363,"c":"r"},
{"i":671,"h":1.2374,"l":1.2350,"c":"b"},{"i":672,"h":1.2366,"l":1.2340,"c":"b"},{"i":673,"h":1.2360,"l":1.2347,"c":"r"},{"i":674,"h":1.2357,"l":1.2334,"c":"r"},{"i":675,"h":1.2350,"l":1.2334,"c":"b"},{"i":676,"h":1.2347,"l":1.2328,"c":"b"},{"i":677,"h":1.2347,"l":1.2328,"c":"r"},{"i":678,"h":1.2340,"l":1.2324,"c":"b"},{"i":679,"h":1.2334,"l":1.2321,"c":"b"},{"i":680,"h":1.2331,"l":1.2318,"c":"r"},
{"i":681,"h":1.2334,"l":1.2324,"c":"c"},{"i":682,"h":1.2328,"l":1.2318,"c":"b"},{"i":683,"h":1.2324,"l":1.2314,"c":"r"},{"i":684,"h":1.2321,"l":1.2314,"c":"r"},{"i":685,"h":1.2321,"l":1.2314,"c":"b"},{"i":686,"h":1.2331,"l":1.2319,"c":"r"},{"i":687,"h":1.2329,"l":1.2319,"c":"r"},{"i":688,"h":1.2331,"l":1.2318,"c":"b"},{"i":689,"h":1.2329,"l":1.2319,"c":"r"},{"i":690,"h":1.2331,"l":1.2319,"c":"b"},
{"i":691,"h":1.2331,"l":1.2321,"c":"r"},{"i":692,"h":1.2343,"l":1.2321,"c":"r"},{"i":693,"h":1.2337,"l":1.2321,"c":"r"},{"i":694,"h":1.2340,"l":1.2318,"c":"b"},{"i":695,"h":1.2324,"l":1.2311,"c":"b"},{"i":696,"h":1.2321,"l":1.2304,"c":"b"},{"i":697,"h":1.2308,"l":1.2285,"c":"b"},{"i":698,"h":1.2294,"l":1.2272,"c":"b"},{"i":699,"h":1.2292,"l":1.2269,"c":"b"},{"i":700,"h":1.2289,"l":1.2275,"c":"r"},
{"i":701,"h":1.2292,"l":1.2279,"c":"b"},{"i":702,"h":1.2294,"l":1.2275,"c":"r"},{"i":703,"h":1.2289,"l":1.2279,"c":"b"},{"i":704,"h":1.2285,"l":1.2279,"c":"r"},{"i":705,"h":1.2289,"l":1.2279,"c":"b"},{"i":706,"h":1.2294,"l":1.2275,"c":"r"},{"i":707,"h":1.2289,"l":1.2282,"c":"r"},{"i":708,"h":1.2292,"l":1.2282,"c":"b"},{"i":709,"h":1.2294,"l":1.2279,"c":"r"},{"i":710,"h":1.2304,"l":1.2289,"c":"r"},
{"i":711,"h":1.2304,"l":1.2285,"c":"b"},{"i":712,"h":1.2294,"l":1.2279,"c":"b"},{"i":713,"h":1.2292,"l":1.2275,"c":"r"},{"i":714,"h":1.2289,"l":1.2272,"c":"b"},{"i":715,"h":1.2285,"l":1.2272,"c":"r"},{"i":716,"h":1.2282,"l":1.2260,"c":"b"},{"i":717,"h":1.2285,"l":1.2263,"c":"r"},{"i":718,"h":1.2289,"l":1.2269,"c":"r"},{"i":719,"h":1.2275,"l":1.2263,"c":"r"},{"i":720,"h":1.2282,"l":1.2266,"c":"r"},
{"i":721,"h":1.2282,"l":1.2269,"c":"b"},{"i":722,"h":1.2292,"l":1.2275,"c":"r"},{"i":723,"h":1.2343,"l":1.2298,"c":"r"},{"i":724,"h":1.2366,"l":1.2318,"c":"r"},{"i":725,"h":1.2367,"l":1.2347,"c":"r"},{"i":726,"h":1.2366,"l":1.2353,"c":"b"},{"i":727,"h":1.2371,"l":1.2357,"c":"r"},{"i":728,"h":1.2366,"l":1.2357,"c":"b"},{"i":729,"h":1.2369,"l":1.2360,"c":"r"},{"i":730,"h":1.2372,"l":1.2353,"c":"r"},
{"i":731,"h":1.2360,"l":1.2353,"c":"r"},{"i":732,"h":1.2360,"l":1.2350,"c":"b"},{"i":733,"h":1.2360,"l":1.2350,"c":"c"},{"i":734,"h":1.2362,"l":1.2350,"c":"b"},{"i":735,"h":1.2360,"l":1.2347,"c":"r"},{"i":736,"h":1.2353,"l":1.2350,"c":"b"},{"i":737,"h":1.2350,"l":1.2340,"c":"b"},{"i":738,"h":1.2353,"l":1.2337,"c":"b"},{"i":739,"h":1.2350,"l":1.2337,"c":"b"},{"i":740,"h":1.2353,"l":1.2342,"c":"r"}
]},
"layer":[
{"data":{"name":"boxes"},"mark":{"type":"rect","color":"#808080"},"encoding":{
"x":{"field":"x0","type":"quantitative","title":null,"scale":{"domain":[0,766],"nice":false,"zero":false},"axis":{"orient":"bottom","values":[1,65,129,193,257,321,385,449,513,577,641,705],"tickCount":40,"labelExpr":"['4 Jul 2012','9 Jul 09:00','12 Jul 01:00','16 Jul 18:00','19 Jul 10:00','24 Jul 17:00','27 Jul 09:00','1 Aug 02:00','3 Aug 18:00','8 Aug 11:00','13 Aug 04:00','15 Aug 20:00'][round((datum.value-1)/64)]","labelAlign":"left","labelBaseline":"top","labelDx":-1,"tickSize":4,"labelPadding":2,"labelOverlap":false,"labelFlush":false,"labelBound":false}},
"x2":{"field":"x1"},
"y":{"field":"top","type":"quantitative","title":null,"scale":{"domain":[1.20263,1.25911],"nice":false,"zero":false},"axis":{"orient":"right","values":[1.2029,1.20615,1.20935,1.21255,1.21575,1.21895,1.22215,1.2254,1.2286,1.2318,1.2382,1.24145,1.24465,1.24785,1.25105,1.25425,1.25745],"tickCount":40,"format":".5f","tickSize":3,"labelPadding":2,"labelOverlap":false,"labelFlush":false,"labelBound":false,"labelBaseline":"middle"}},
"y2":{"field":"bot"}}},
{"data":{"values":[{"p":1.2393}]},"mark":{"type":"rule","color":"#dc7890","strokeWidth":1},"encoding":{"y":{"field":"p","type":"quantitative","title":null,"axis":{"orient":"right"}}}},
{"data":{"values":[{"p":1.2347}]},"mark":{"type":"rule","color":"#7b8796","strokeWidth":1},"encoding":{"y":{"field":"p","type":"quantitative","title":null,"axis":{"orient":"right"}}}},
{"data":{"values":[{"x0":263,"y0":1.2305,"x1":766,"y1":1.2541},{"x0":333,"y0":1.2063,"x1":766,"y1":1.2324}]},"mark":{"type":"rule","color":"#b4b4b4","strokeWidth":1},"encoding":{"x":{"field":"x0","type":"quantitative","title":null,"axis":{"orient":"bottom"}},"x2":{"field":"x1"},"y":{"field":"y0","type":"quantitative","title":null,"axis":{"orient":"right"}},"y2":{"field":"y1"}}},
{"data":{"name":"bars"},"mark":{"type":"rule","strokeWidth":1,"xOffset":0.5},"encoding":{"x":{"field":"i","type":"quantitative","title":null,"axis":{"orient":"bottom"}},"y":{"field":"h","type":"quantitative","title":null,"axis":{"orient":"right"}},"y2":{"field":"l"},"color":{"field":"c","type":"nominal","scale":{"domain":["r","b","c"],"range":["#ff0000","#0000ff","#00ffff"]},"legend":null}}},
{"data":{"values":[{"x0":768.7,"x1":806,"top":1.2399,"bot":1.2388}]},"mark":{"type":"rect","color":"#cc6a88"},"encoding":{"x":{"field":"x0","type":"quantitative","title":null,"axis":{"orient":"bottom"}},"x2":{"field":"x1"},"y":{"field":"top","type":"quantitative","title":null,"axis":{"orient":"right"}},"y2":{"field":"bot"}}},
{"data":{"values":[{"x0":768.7,"x1":806,"top":1.2353,"bot":1.2342}]},"mark":{"type":"rect","color":"#ffffff"},"encoding":{"x":{"field":"x0","type":"quantitative","title":null,"axis":{"orient":"bottom"}},"x2":{"field":"x1"},"y":{"field":"top","type":"quantitative","title":null,"axis":{"orient":"right"}},"y2":{"field":"bot"}}},
{"data":{"values":[{"x":771.5,"p":1.2393,"t":"1.23930"}]},"mark":{"type":"text","color":"#ffffff","align":"left","baseline":"middle","font":"Liberation Sans","fontSize":9},"encoding":{"x":{"field":"x","type":"quantitative","title":null,"axis":{"orient":"bottom"}},"y":{"field":"p","type":"quantitative","title":null,"axis":{"orient":"right"}},"text":{"field":"t"}}},
{"data":{"values":[{"x":771.5,"p":1.2347,"t":"1.23470"}]},"mark":{"type":"text","color":"#000000","align":"left","baseline":"middle","font":"Liberation Sans","fontSize":9},"encoding":{"x":{"field":"x","type":"quantitative","title":null,"axis":{"orient":"bottom"}},"y":{"field":"p","type":"quantitative","title":null,"axis":{"orient":"right"}},"text":{"field":"t"}}},
{"data":{"values":[{"x":5,"p":1.2579,"t":"EURUSD,H1\u00a0 1.23440 1.23520 1.23430 1.23470"}]},"mark":{"type":"text","color":"#ffffff","align":"left","baseline":"alphabetic","font":"Liberation Sans","fontSize":10},"encoding":{"x":{"field":"x","type":"quantitative","title":null,"axis":{"orient":"bottom"}},"y":{"field":"p","type":"quantitative","title":null,"axis":{"orient":"right"}},"text":{"field":"t"}}},
{"data":{"values":[{"x":4,"p":1.2031,"t":"MetaTrader, ? 2001-2012, MetaQuotes Software Corp."}]},"mark":{"type":"text","color":"#ffffff","align":"left","baseline":"alphabetic","font":"Liberation Sans","fontSize":10.8},"encoding":{"x":{"field":"x","type":"quantitative","title":null,"axis":{"orient":"bottom"}},"y":{"field":"p","type":"quantitative","title":null,"axis":{"orient":"right"}},"text":{"field":"t"}}}
]}
